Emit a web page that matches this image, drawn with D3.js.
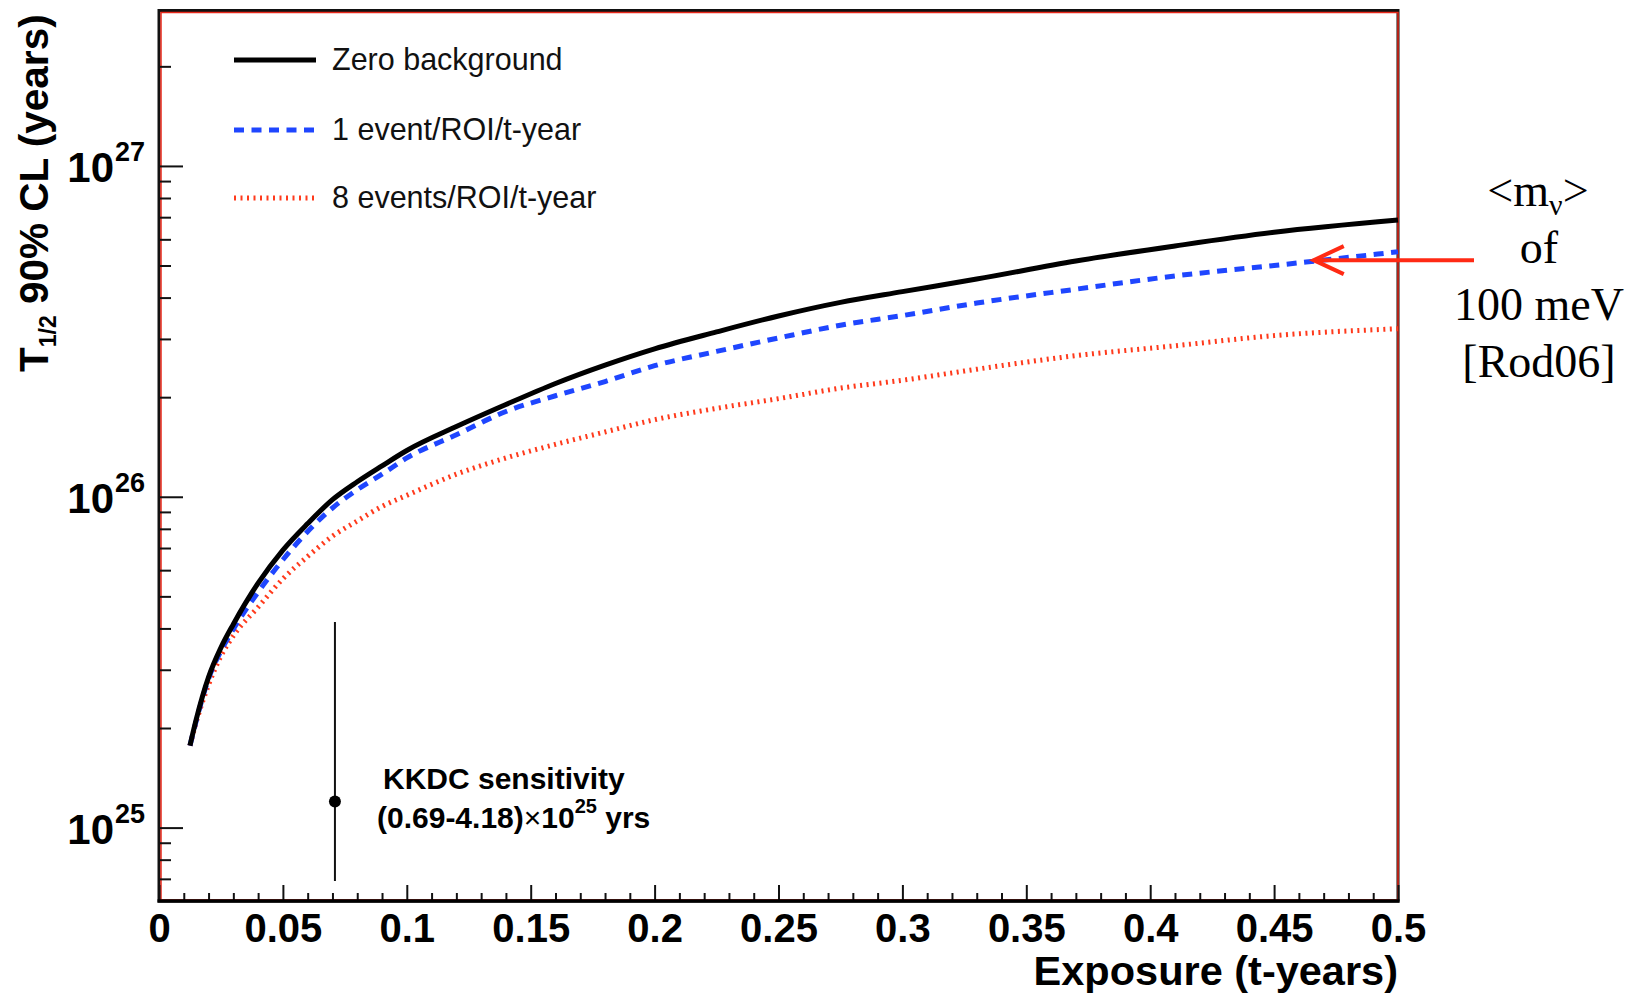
<!DOCTYPE html>
<html>
<head>
<meta charset="utf-8">
<script src="https://cdn.jsdelivr.net/npm/d3@7"></script>
<style>
  body { margin: 0; background: #fff; }
  svg { display: block; }
</style>
</head>
<body>
<div id="chart"></div>
<script>
// exposure in t-years where the curves were read
const exposure = [0.0125, 0.015, 0.02, 0.025, 0.03, 0.04, 0.05, 0.06, 0.07, 0.08, 0.09, 0.1,
    0.12, 0.14, 0.16, 0.18, 0.2, 0.225, 0.25, 0.275, 0.3, 0.33, 0.37, 0.41, 0.45, 0.5]
const zeroBkg = [1.77e25, 2.12e25, 2.85e25, 3.5e25, 4.12e25, 5.48e25, 6.9e25, 8.3e25, 9.8e25, 1.11e26, 1.24e26, 1.38e26,
    1.63e26, 1.9e26, 2.2e26, 2.5e26, 2.8e26, 3.15e26, 3.52e26, 3.87e26, 4.17e26, 4.55e26, 5.16e26, 5.73e26, 6.3e26, 6.86e26]
const oneEvent = [1.77e25, 2.1e25, 2.82e25, 3.42e25, 3.98e25, 5.15e25, 6.45e25, 7.85e25, 9.25e25, 1.05e26, 1.17e26, 1.31e26,
    1.54e26, 1.81e26, 2.02e26, 2.23e26, 2.49e26, 2.75e26, 3.02e26, 3.3e26, 3.53e26, 3.85e26, 4.24e26, 4.65e26, 5.0e26, 5.5e26]
const eightEvents = [1.77e25, 2.08e25, 2.7e25, 3.3e25, 3.8e25, 4.64e25, 5.65e25, 6.6e25, 7.6e25, 8.45e25, 9.35e25, 1.01e26,
    1.17e26, 1.31e26, 1.44e26, 1.57e26, 1.71e26, 1.85e26, 1.98e26, 2.13e26, 2.25e26, 2.43e26, 2.67e26, 2.86e26, 3.07e26, 3.22e26]

const seriesNames = ['Zero background', '1 event/ROI/t-year', '8 events/ROI/t-year']

// KKDC claim: central value with range
const kkdc = {x: 0.071, y: 1.2e25, lo: 0.69e25, hi: 4.18e25}
const kkdcText = ['KKDC sensitivity', '(0.69-4.18)', '\u00d7', '10', '25', ' yrs']

// arrow marking <m_nu> = 100 meV on the 1-event curve
const arrowTip = {x: 0.466, y: 5.19e26}
const noteLines = ['of', '100 meV', '[Rod06]']

const xTicks = [0, 0.05, 0.1, 0.15, 0.2, 0.25, 0.3, 0.35, 0.4, 0.45, 0.5]
const xTickLabels = ['0', '0.05', '0.1', '0.15', '0.2', '0.25', '0.3', '0.35', '0.4', '0.45', '0.5']
const yDecades = [25, 26, 27]

const W = 1639, H = 997
const frame = {left: 159, right: 1398, top: 10.5, bottom: 901}
const colors = {zero: '#000', one: '#1f46ff', eight: '#ff3a1c', frameRed: '#e8281a', arrow: '#ff2a14'}
const axisFont = '"Liberation Sans", Arial, Helvetica, sans-serif'

const svg = d3.select('#chart').append('svg')
    .attr('width', W).attr('height', H)
    .attr('viewBox', `0 0 ${W} ${H}`)

const x = d3.scaleLinear().domain([0, 0.5]).range([frame.left, frame.right])
const y = d3.scaleLog().domain([6e24, 2.95e27]).range([frame.bottom, frame.top])

// frame: black with red inner edge
svg.append('rect')
    .attr('x', frame.left).attr('y', frame.top)
    .attr('width', frame.right - frame.left).attr('height', frame.bottom - frame.top)
    .attr('fill', 'none').attr('stroke', '#111').attr('stroke-width', 3)
svg.append('rect')
    .attr('x', frame.left + 2).attr('y', frame.top + 2)
    .attr('width', frame.right - frame.left - 2).attr('height', frame.bottom - frame.top - 3)
    .attr('fill', 'none').attr('stroke', colors.frameRed).attr('stroke-width', 1.5)

// x axis
const xMinor = d3.range(0, 51).map(d => d / 100).filter(d => Math.round(d * 100) % 5 !== 0)
svg.append('g')
    .attr('transform', `translate(0,${frame.bottom})`)
    .call(d3.axisBottom(x).tickValues(xMinor).tickSize(-8).tickFormat(''))
    .call(g => g.select('.domain').remove())
    .call(g => g.selectAll('line').attr('stroke', '#111').attr('stroke-width', 2))

svg.append('g')
    .attr('transform', `translate(0,${frame.bottom})`)
    .call(d3.axisBottom(x).tickValues(xTicks).tickSize(-16).tickPadding(13)
        .tickFormat((d, i) => xTickLabels[i]))
    .call(g => g.select('.domain').remove())
    .call(g => g.selectAll('line').attr('stroke', '#111').attr('stroke-width', 2))
    .call(g => g.selectAll('text')
        .attr('font-family', axisFont).attr('font-weight', 'bold')
        .attr('font-size', 40).attr('fill', '#000'))

svg.append('line')
    .attr('x1', frame.left - 1.5).attr('x2', frame.right + 1.5)
    .attr('y1', frame.bottom).attr('y2', frame.bottom)
    .attr('stroke', '#000').attr('stroke-width', 3.5)

// y axis
const yMinor = []
for (let e = 24; e <= 27; e++) {
    for (let m = 2; m <= 9; m++) {
        const v = m * Math.pow(10, e)
        if (v > y.domain()[0] && v < y.domain()[1]) yMinor.push(v)
    }
}
svg.append('g')
    .attr('transform', `translate(${frame.left},0)`)
    .call(d3.axisLeft(y).tickValues(yMinor).tickSize(-12).tickFormat(''))
    .call(g => g.select('.domain').remove())
    .call(g => g.selectAll('line').attr('stroke', '#111').attr('stroke-width', 2))
svg.append('g')
    .attr('transform', `translate(${frame.left},0)`)
    .call(d3.axisLeft(y).tickValues(yDecades.map(e => Math.pow(10, e))).tickSize(-24).tickFormat(''))
    .call(g => g.select('.domain').remove())
    .call(g => g.selectAll('line').attr('stroke', '#111').attr('stroke-width', 2))

const yLab = svg.append('g').selectAll('g')
    .data(yDecades)
    .join('g')
    .attr('transform', e => `translate(0,${y(Math.pow(10, e))})`)
    .attr('font-family', axisFont).attr('font-weight', 'bold').attr('fill', '#000')
yLab.append('text')
    .attr('x', 114).attr('y', 16)
    .attr('text-anchor', 'end').attr('font-size', 42)
    .text('10')
yLab.append('text')
    .attr('x', 115).attr('y', -5)
    .attr('font-size', 27)
    .text(e => e)

// axis titles
svg.append('text')
    .attr('x', frame.right).attr('y', 985)
    .attr('text-anchor', 'end')
    .attr('font-family', axisFont).attr('font-weight', 'bold').attr('font-size', 41.5)
    .text('Exposure (t-years)')

const yTitle = svg.append('text')
    .attr('transform', 'translate(48,372) rotate(-90)')
    .attr('font-family', axisFont).attr('font-weight', 'bold').attr('font-size', 40.5)
yTitle.append('tspan').text('T')
yTitle.append('tspan').attr('font-size', 23).attr('dy', 8).text('1/2')
yTitle.append('tspan').attr('dy', -8).text(' 90% CL (years)')

// curves
const series = [
    {name: seriesNames[0], values: zeroBkg, color: colors.zero, width: 5, dash: null},
    {name: seriesNames[1], values: oneEvent, color: colors.one, width: 5, dash: '10,7.5'},
    {name: seriesNames[2], values: eightEvents, color: colors.eight, width: 5, dash: '2,4.5'}
]

const line = d3.line()
    .x(d => x(d[0]))
    .y(d => y(d[1]))
    .curve(d3.curveMonotoneX)

svg.append('g').selectAll('path')
    .data(series.slice().reverse())
    .join('path')
    .attr('d', s => line(exposure.map((e, i) => [e, s.values[i]])))
    .attr('fill', 'none')
    .attr('stroke', s => s.color)
    .attr('stroke-width', s => s.width)
    .attr('stroke-dasharray', s => s.dash)

// legend
const legendY = [60, 130, 198]
const leg = svg.append('g').selectAll('g')
    .data(series)
    .join('g')
    .attr('transform', (s, i) => `translate(0,${legendY[i]})`)
leg.append('line')
    .attr('x1', 234).attr('x2', 316)
    .attr('stroke', s => s.color)
    .attr('stroke-width', s => s.width)
    .attr('stroke-dasharray', s => s.dash)
leg.append('text')
    .attr('x', 332).attr('y', 10)
    .attr('font-family', axisFont).attr('font-size', 30.5).attr('fill', '#111')
    .text(s => s.name)

// KKDC point with its range
const kk = svg.append('g')
kk.append('line')
    .attr('x1', x(kkdc.x)).attr('x2', x(kkdc.x))
    .attr('y1', y(kkdc.hi)).attr('y2', y(kkdc.lo))
    .attr('stroke', '#111').attr('stroke-width', 2)
kk.append('circle')
    .attr('cx', x(kkdc.x)).attr('cy', y(kkdc.y)).attr('r', 6)
    .attr('fill', '#000')
kk.append('text')
    .attr('x', 383).attr('y', 789)
    .attr('font-family', axisFont).attr('font-weight', 'bold').attr('font-size', 30)
    .text(kkdcText[0])
const kt = kk.append('text')
    .attr('x', 377).attr('y', 828)
    .attr('font-family', axisFont).attr('font-weight', 'bold').attr('font-size', 30)
kt.append('tspan').text(kkdcText[1])
kt.append('tspan').attr('font-weight', 'normal').text(kkdcText[2])
kt.append('tspan').text(kkdcText[3])
kt.append('tspan').attr('font-size', 20).attr('dy', -15).text(kkdcText[4])
kt.append('tspan').attr('dy', 15).text(kkdcText[5])

// annotation arrow and note
const tipX = x(arrowTip.x), tipY = y(arrowTip.y)
const arrow = svg.append('g')
    .attr('stroke', colors.arrow).attr('stroke-width', 4).attr('fill', 'none')
arrow.append('line').attr('x1', tipX).attr('y1', tipY).attr('x2', 1474).attr('y2', tipY)
arrow.append('path')
    .attr('d', `M${tipX + 30},${tipY - 14} L${tipX},${tipY} L${tipX + 30},${tipY + 14}`)

const note = svg.append('g')
    .attr('font-family', '"Liberation Serif", "Times New Roman", serif')
    .attr('font-size', 46).attr('fill', '#000').attr('text-anchor', 'middle')
const mv = note.append('text').attr('x', 1538).attr('y', 206)
mv.append('tspan').text('<m')
mv.append('tspan').attr('font-size', 30).attr('dy', 9).text('\u03bd')
mv.append('tspan').attr('dy', -9).text('>')
note.selectAll('text.line')
    .data(noteLines)
    .join('text')
    .attr('class', 'line')
    .attr('x', 1539)
    .attr('y', (d, i) => 263 + i * 57)
    .text(d => d)
</script>
</body>
</html>
